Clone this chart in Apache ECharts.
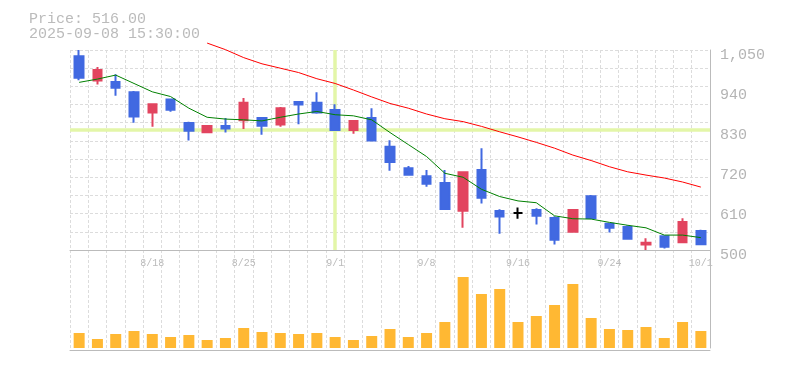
<!DOCTYPE html>
<html><head><meta charset="utf-8">
<script src="https://cdn.jsdelivr.net/npm/echarts@6/dist/echarts.min.js"></script>
<style>html,body{margin:0;padding:0;background:#fff}#c{width:785px;height:370px}</style>
</head><body><div id="c"></div>
<script>
const dates = ['8/12','8/13','8/14','8/15','8/18','8/19','8/20','8/21','8/22','8/25','8/26','8/27','8/28','8/29','9/1','9/2','9/3','9/4','9/5','9/8','9/9','9/10','9/11','9/12','9/16','9/17','9/18','9/19','9/22','9/24','9/25','9/26','9/29','9/30','10/1'];
const opens  = [1033,966,962,934,878,914,849,824,841,857,863,845,907,905,885,830,863,784,725,703,684,608,720,607,602,610,588,550,648,572,563,515,538,521,552];
const closes = [974,995,946,867,901,886,828,841,834,905,842,890,900,878,830,855,801,742,707,682,613,714,644,592,602,594,528,610,588,561,531,520,509,577,516];
const lows   = [967,955,924,850,839,880,801,824,823,833,817,839,846,875,827,820,800,718,707,674,612,561,628,545,586,570,515,548,588,548,531,500,504,521,515];
const highs  = [1050,1003,983,937,901,915,853,844,863,918,866,893,907,934,901,857,890,802,731,720,720,714,780,612,617,615,593,610,651,572,568,532,539,587,556];
const ma5    = [961,970,981,958,935,922,890,865,860,858,855,865,874,881,872,869,858,823,790,757,711,700,667,647,635,630,594,586,585,576,568,561,541,541,534];
const ma25   = [null,null,null,null,null,null,null,1069,1051,1029,1012,1000,988,971,958,940,921,903,890,874,861,853,840,825,811,796,780,761,746,729,715,706,698,687,673];
const volumes = [15,9,14,17,14,11,13,8,10,20,16,15,14,15,11,8,12,19,11,15,26,71,54,59,26,32,43,64,30,19,18,21,10,26,17];
const yTickLabels = [500,610,720,830,940,1050];
const xTickLabels = ['8/18','8/25','9/1','9/8','9/16','9/24','10/1'];
const crossDate = '9/1';
const crossPrice = 832;
const titleLines = ['Price: 516.00','2025-09-08 15:30:00'];

const FONT = 'Liberation Mono';
const UP = '#e2445f', DOWN = '#4169e1';
const gridLine = {color:'#dcdcdc', type:[3,2], width:1};

const candleData = dates.map((d,i)=>{
  const v = [opens[i], closes[i], lows[i], highs[i]];
  if (opens[i] === closes[i]) {
    return {value:v, itemStyle:{color:'#000',color0:'#000',borderColor:'#000',borderColor0:'#000',borderColorDoji:'#000'}};
  }
  return v;
});

const chart = echarts.init(document.getElementById('c'));
chart.setOption({
  animation:false,
  title:{text:titleLines.join('\n'), left:29, top:11, padding:0,
    textStyle:{fontFamily:FONT, fontSize:15, fontWeight:'normal', color:'#bbb', lineHeight:15.5}},
  grid:[{left:70,right:75,top:50,height:200},{left:70,right:75,top:250,height:98}],
  xAxis:[
    {type:'category', gridIndex:0, data:dates, boundaryGap:true,
     axisLine:{onZero:false, lineStyle:{color:'#bbb'}}, axisTick:{show:false},
     axisLabel:{interval:(i,v)=>xTickLabels.includes(v), color:'#bbb', fontFamily:FONT, fontSize:10, margin:8},
     splitLine:{show:true, interval:0, lineStyle:gridLine}},
    {type:'category', gridIndex:1, data:dates, boundaryGap:true, offset:2,
     axisLine:{onZero:false, lineStyle:{color:'#bbb'}}, axisTick:{show:false}, axisLabel:{show:false},
     splitLine:{show:true, interval:0, lineStyle:gridLine}}
  ],
  yAxis:[
    {type:'value', gridIndex:0, position:'right', min:500, max:1050, interval:50,
     axisLine:{show:true, lineStyle:{color:'#bbb'}}, axisTick:{show:false},
     axisLabel:{customValues:yTickLabels, color:'#b4b4b4', fontFamily:FONT, fontSize:15, margin:10, verticalAlign:'top', lineHeight:10},
     splitLine:{show:true, lineStyle:gridLine}},
    {type:'value', gridIndex:1, position:'right', min:0, max:98,
     axisLine:{show:true, lineStyle:{color:'#bbb'}}, axisTick:{show:false}, axisLabel:{show:false}, splitLine:{show:false}}
  ],
  series:[
    {type:'line', xAxisIndex:0, yAxisIndex:0, data:[], z:1,
     markLine:{silent:true, z:1, symbol:'none', label:{show:false},
       lineStyle:{color:'#e3f6a8', width:3.5, type:'solid'},
       data:[{xAxis:crossDate},{yAxis:crossPrice}]}},
    {type:'candlestick', xAxisIndex:0, yAxisIndex:0, data:candleData, barWidth:9, z:3,
     itemStyle:{color:UP, color0:DOWN, borderColor:UP, borderColor0:DOWN, borderWidth:2, borderColorDoji:'#000'}},
    {type:'line', xAxisIndex:0, yAxisIndex:0, data:ma5, symbol:'none', z:4,
     lineStyle:{color:'#008000', width:1}, itemStyle:{color:'#008000'}},
    {type:'line', xAxisIndex:0, yAxisIndex:0, data:ma25, symbol:'none', z:4, clip:false,
     lineStyle:{color:'#ff0000', width:1}, itemStyle:{color:'#ff0000'}},
    {type:'bar', xAxisIndex:1, yAxisIndex:1, data:volumes, barWidth:11,
     itemStyle:{color:'#ffb833'}}
  ]
});
</script></body></html>
